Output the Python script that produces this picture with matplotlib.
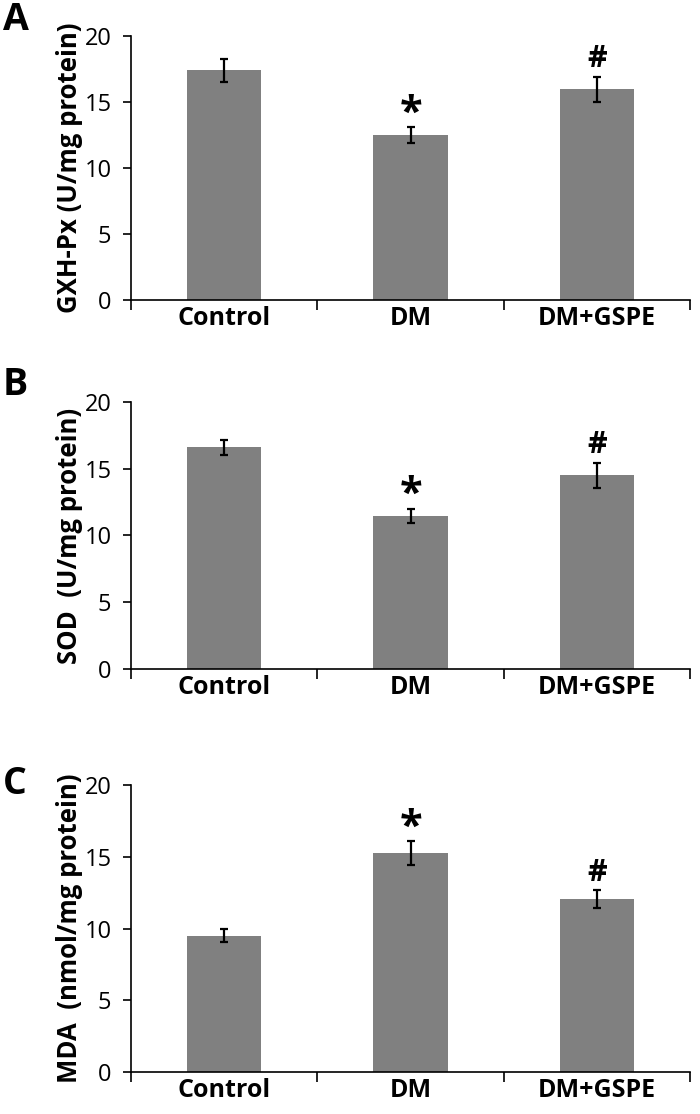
import matplotlib
matplotlib.use("Agg")
import matplotlib.pyplot as plt
import numpy as np

plt.rcParams['font.family'] = ['Open Sans', 'DejaVu Sans']

groups = ['Control', 'DM', 'DM+GSPE']

gpx_mean = [17.4, 12.5, 15.95]
gpx_err = [0.85, 0.6, 0.95]
sod_mean = [16.6, 11.45, 14.5]
sod_err = [0.55, 0.55, 0.95]
mda_mean = [9.5, 15.25, 12.05]
mda_err = [0.45, 0.85, 0.6]

marks = ['', '*', '#']
ylabels = ['GXH-Px (U/mg protein)', 'SOD  (U/mg protein)', 'MDA  (nmol/mg protein)']
panel_letters = ['A', 'B', 'C']
letter_y = [20, 385, 784]  # pixel rows of the panel letters

fig = plt.figure(figsize=(7, 11.14), dpi=100)
rects = [[0.187, 0.7307, 0.799, 0.237],
         [0.187, 0.3995, 0.799, 0.2397],
         [0.187, 0.0377, 0.799, 0.2576]]

data = [(gpx_mean, gpx_err), (sod_mean, sod_err), (mda_mean, mda_err)]

for rect, (means, errs), ylab, letter, ly in zip(rects, data, ylabels, panel_letters, letter_y):
    ax = fig.add_axes(rect)
    x = np.arange(len(groups)) + 0.5
    ax.bar(x, means, width=0.4, color='#808080', zorder=2)
    ax.errorbar(x, means, yerr=errs, fmt='none', ecolor='black',
                elinewidth=1.6, capsize=3, capthick=1.6, zorder=3)
    for xi, m, e, mk in zip(x, means, errs, marks):
        if mk == '*':
            ax.text(xi, m + e - 0.55, mk, ha='center', va='bottom',
                    fontsize=30, fontweight='bold')
        elif mk == '#':
            ax.text(xi, m + e + 0.2, mk, ha='center', va='bottom',
                    fontsize=22, fontweight='bold')
    ax.set_xlim(0, 3)
    ax.set_ylim(0, 20)
    ax.set_yticks([0, 5, 10, 15, 20])
    ax.set_xticks([0, 1, 2, 3])
    ax.set_xticklabels([])
    ax.set_xticks(x, minor=True)
    ax.set_xticklabels(groups, minor=True, fontsize=18, fontweight='bold')
    ax.tick_params(axis='x', which='minor', length=0, pad=4)
    ax.tick_params(axis='x', which='major', length=7, width=1.2, direction='out')
    ax.tick_params(axis='y', length=6, width=1.2, labelsize=17, pad=8)
    for s in ['top', 'right']:
        ax.spines[s].set_visible(False)
    for s in ['left', 'bottom']:
        ax.spines[s].set_linewidth(1.2)
    ax.set_ylabel(ylab, fontsize=18.5, fontweight='bold', labelpad=1)
    fig.text(0.004, 1 - ly / 1114, letter, fontsize=27,
             fontweight='bold', ha='left', va='center')

fig.savefig('out.png', dpi=100)
